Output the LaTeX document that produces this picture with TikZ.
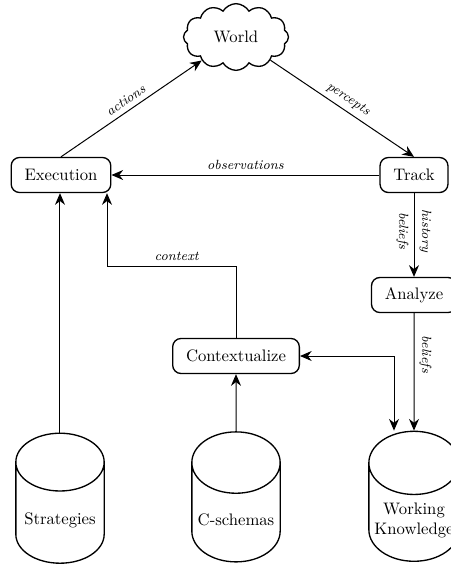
\documentclass[tikz,border=0pt]{standalone}
\usepackage{amsmath}
\usepackage{tikz}
\usetikzlibrary{arrows.meta, shapes.geometric, shapes.symbols, positioning}

\begin{document}
\begin{tikzpicture}[
            x = 0.6pt, y = -0.6pt, % one unit = one pixel of the layout
            > = {Stealth[length=7pt, width=6pt]}, % arrow head style
            shorten > = 0pt,
            auto,
            semithick % line style
        ]

        \tikzstyle{proc}=[
            draw = black,
            thick,
            fill = white,
            rounded corners = 5pt,
            minimum height = 21pt,
            inner xsep = 8pt
        ]
        \tikzstyle{db}=[
            draw = black,
            thick,
            cylinder,
            shape border rotate = 90,
            aspect = 0.7,
            minimum width = 53pt,
            minimum height = 78pt,
            align = center
        ]
        \tikzstyle{lbl}=[font = \footnotesize\itshape, inner sep = 3pt]

        \useasboundingbox (0,0) rectangle (451,569);
        \clip (0,0) rectangle (451,569);

        \node[draw, thick, cloud, cloud puffs = 12, cloud puff arc = 120,
              aspect = 1.7, minimum width = 63pt, minimum height = 40pt] (world) at (236,37) {World};
        \node[proc] (exec) at (61,175) {Execution};
        \node[proc] (track) at (414,175) {Track};
        \node[proc] (analyze) at (414,295) {Analyze};
        \node[proc] (ctx) at (236,356) {Contextualize};

        \node[db] (strat) at (60,520) {Strategies};
        \node[db] (cschema) at (236,520) {C-schemas};
        \node[db] (wk) at (414,520) {Working\\Knowledge};

        \coordinate (ctxbend) at (107,266);

        \draw[->] (exec.north) -- node[lbl, sloped, above] {actions} (world);
        \draw[->] (world) -- node[lbl, sloped, above] {percepts} (track.north);
        \draw[->] (track) -- node[lbl, above] {observations} (exec);
        \draw[->] (track) -- node[lbl, pos=0.45, rotate=-90, anchor=north] {beliefs}
                             node[lbl, pos=0.45, rotate=-90, anchor=south] {history} (analyze);
        \draw[->] (analyze.south) -- node[lbl, pos=0.35, rotate=-90, anchor=south] {beliefs} (wk.north);
        \draw[<->] (ctx.east) -| ([xshift=-12pt]wk.north);
        \draw[->] (cschema.north) -- (ctx.south);
        \draw[->] (ctx.north) |- node[lbl, pos=0.73, above] {context} (ctxbend) -- (ctxbend |- exec.south);
        \draw[->] (strat.north) -- (strat.north |- exec.south);

  \end{tikzpicture}
\end{document}
